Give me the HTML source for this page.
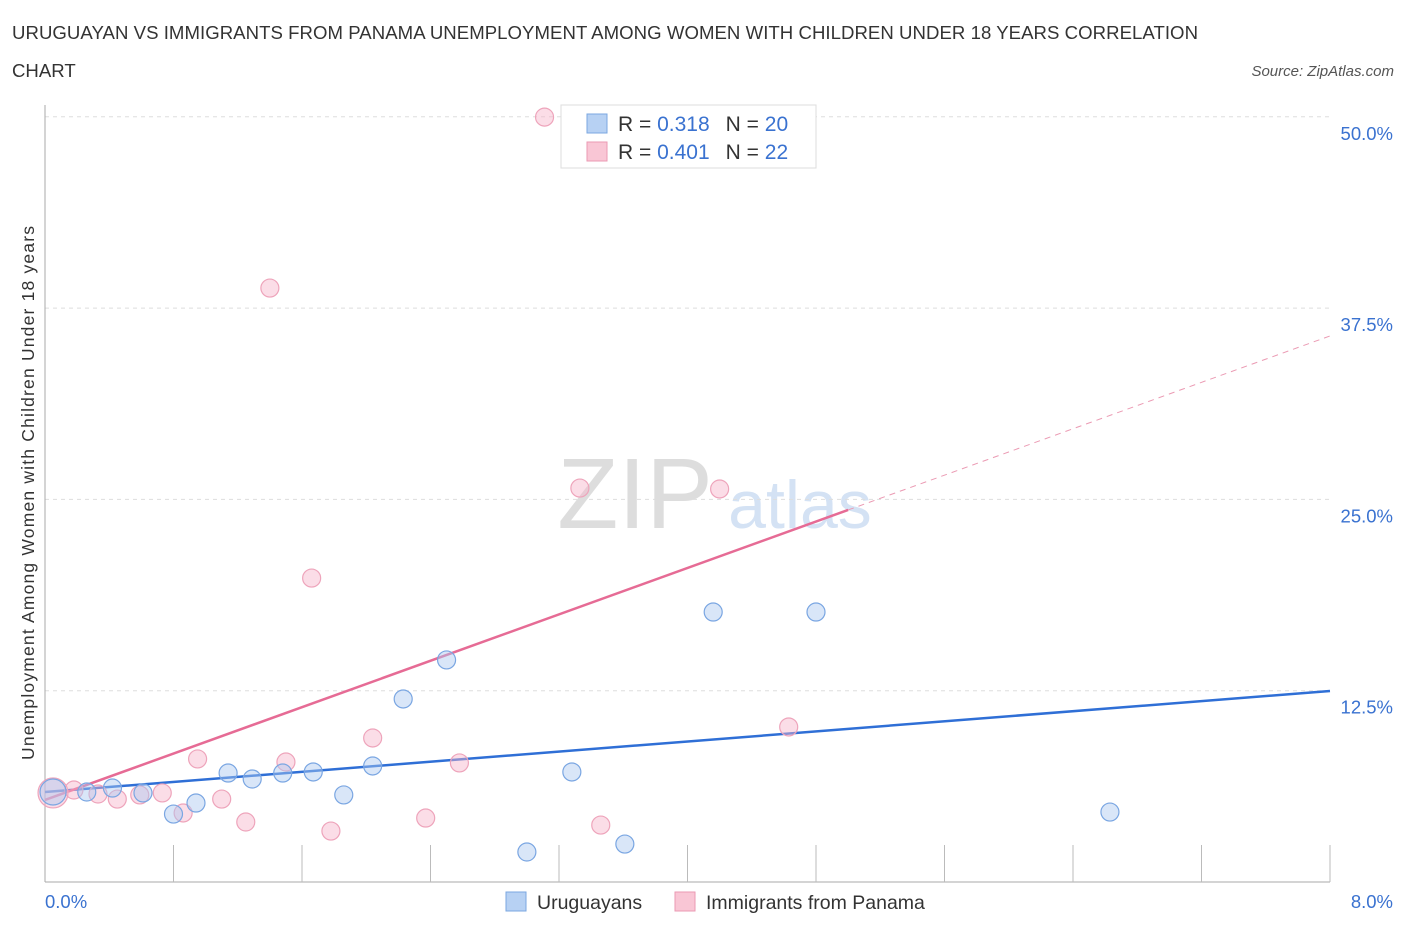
<!DOCTYPE html>
<html><head><meta charset="utf-8"><style>
body{margin:0;background:#fff;font-family:"Liberation Sans",sans-serif}
svg text{font-family:"Liberation Sans",sans-serif}
</style></head><body>
<svg id="c" width="1406" height="930" viewBox="0 0 1406 930" xmlns="http://www.w3.org/2000/svg">
<text x="12" y="39" font-size="18.6" fill="#333" textLength="1186">URUGUAYAN VS IMMIGRANTS FROM PANAMA UNEMPLOYMENT AMONG WOMEN WITH CHILDREN UNDER 18 YEARS CORRELATION</text>
<text x="12" y="77" font-size="18.6" fill="#333">CHART</text>
<text x="1394" y="76" font-size="15" fill="#555" font-style="italic" text-anchor="end">Source: ZipAtlas.com</text>
<text x="635" y="528" font-size="100" fill="#ddd" font-family="Liberation Serif,serif" text-anchor="middle">ZIP</text>
<text x="800" y="528" font-size="68" fill="#d4e2f4" text-anchor="middle">atlas</text>
<text transform="translate(34,493) rotate(-90)" font-size="17.5" fill="#333" text-anchor="middle" textLength="534">Unemployment Among Women with Children Under 18 years</text>
<g id="grid"></g><g id="lines"></g><g id="pts"></g>
<g>
<rect x="561" y="105" width="255" height="63" fill="#fff" stroke="#ddd"/>
<rect x="587" y="114" width="20" height="19" fill="#b7d1f3" stroke="#7ba7e0"/>
<rect x="587" y="142" width="20" height="19" fill="#f9c6d5" stroke="#eb9ab3"/>
<text x="618" y="131" font-size="21" fill="#333">R = <tspan fill="#3a72d0"> 0.318</tspan><tspan dx="16">N = </tspan><tspan fill="#3a72d0">20</tspan></text>
<text x="618" y="159" font-size="21" fill="#333">R = <tspan fill="#3a72d0">0.401</tspan><tspan dx="16">N = </tspan><tspan fill="#3a72d0"> 22</tspan></text>
</g>
<g>
<rect x="506" y="892" width="20" height="19" fill="#b7d1f3" stroke="#7ba7e0"/>
<text x="537" y="909" font-size="19.5" fill="#333">Uruguayans</text>
<rect x="675" y="892" width="20" height="19" fill="#f9c6d5" stroke="#eb9ab3"/>
<text x="706" y="909" font-size="19.5" fill="#333">Immigrants from Panama</text>
</g>
</svg>
<script>
const xTicks=[0,0.8,1.6,2.4,3.2,4,4.8,5.6,6.4,7.2,8];
const yTicks=[12.5,25,37.5,50];
const yTickLabels=["12.5%","25.0%","37.5%","50.0%"];
const blueX=[0.05,0.26,0.42,0.61,0.80,0.94,1.14,1.29,1.48,1.67,1.86,2.04,2.23,2.50,3.00,3.28,3.61,4.16,4.80,6.63];
const blueY=[5.88,5.88,6.14,5.82,4.44,5.16,7.12,6.73,7.12,7.19,5.69,7.58,11.96,14.51,1.96,7.19,2.48,17.64,17.64,4.57];
const pinkX=[0.05,0.18,0.33,0.45,0.59,0.73,0.86,0.95,1.10,1.25,1.40,1.50,1.66,1.78,2.04,2.37,2.58,3.11,3.33,3.46,4.20,4.63];
const pinkY=[5.82,6.01,5.75,5.42,5.69,5.82,4.51,8.04,5.42,3.92,38.81,7.84,19.86,3.33,9.41,4.18,7.78,49.98,25.74,3.72,25.68,10.13];
const blueTrend=[5.88,0.825];
const pinkTrend=[5.36,3.79];
const pinkSolidEnd=5.0;
const X=v=>45+v*1285/8, Y=v=>882-v*191.3/12.5;
const NS="http://www.w3.org/2000/svg";
function mk(p,t,a){const e=document.createElementNS(NS,t);for(const k in a)e.setAttribute(k,a[k]);p.appendChild(e);return e;}
const g=document.getElementById('grid');
yTicks.forEach((v,i)=>{
 const l=mk(g,'line',{x1:45,x2:1330,y1:Y(v),y2:Y(v),stroke:'#ddd','stroke-dasharray':'4,4'});
 
 
 const t=mk(g,'text',{x:1393,y:Y(v)+23,'font-size':18.5,fill:'#3a72d0','text-anchor':'end'});
 t.textContent=yTickLabels[i];
 
 
});
mk(g,'line',{x1:45,x2:45,y1:105,y2:882,stroke:'#aaa'});
mk(g,'line',{x1:45,x2:1330,y1:882,y2:882,stroke:'#aaa'});
xTicks.slice(1).forEach(v=>{
 const l=mk(g,'line',{x1:X(v),x2:X(v),y1:845,y2:882,stroke:'#bbb'});
 
 
});
const t0=mk(g,'text',{x:45,y:908,'font-size':18.5,fill:'#3a72d0'});t0.textContent='0.0%';


const t1=mk(g,'text',{x:1393,y:908,'font-size':18.5,fill:'#3a72d0','text-anchor':'end'});t1.textContent='8.0%';


const P=document.getElementById('pts');
pinkX.forEach((x,i)=>{
 const c=mk(P,'circle',{cx:X(x),cy:Y(pinkY[i]),r:i==0?15:9,fill:'rgba(246,180,201,0.45)',stroke:'#eea4bb','stroke-width':1.2});
 
 
});
blueX.forEach((x,i)=>{
 const c=mk(P,'circle',{cx:X(x),cy:Y(blueY[i]),r:i==0?13:9,fill:'rgba(170,200,240,0.45)',stroke:'#7aa6e2','stroke-width':1.2});
 
 
});
const L=document.getElementById('lines');
const bl=mk(L,'line',{x1:X(0),y1:Y(blueTrend[0]),x2:X(8),y2:Y(blueTrend[0]+blueTrend[1]*8),stroke:'#2f6fd6','stroke-width':2.5});


const pl=mk(L,'line',{x1:X(0),y1:Y(pinkTrend[0]),x2:X(pinkSolidEnd),y2:Y(pinkTrend[0]+pinkTrend[1]*pinkSolidEnd),stroke:'#e66b95','stroke-width':2.5});


const pd=mk(L,'line',{x1:X(pinkSolidEnd),y1:Y(pinkTrend[0]+pinkTrend[1]*pinkSolidEnd),x2:X(8),y2:Y(pinkTrend[0]+pinkTrend[1]*8),stroke:'#eb9ab3','stroke-width':1,'stroke-dasharray':'6,5'});


</script>
</body></html>
